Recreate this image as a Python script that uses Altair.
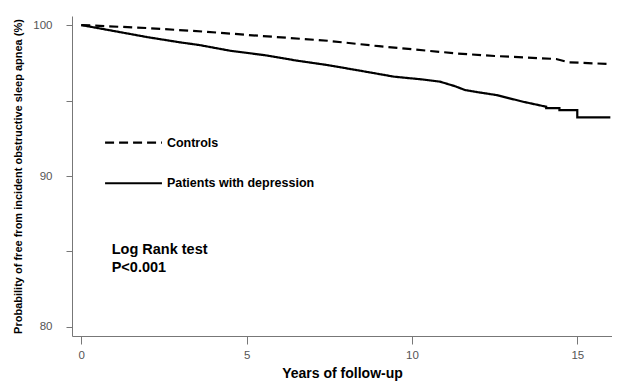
import altair as alt
import pandas as pd

# Kaplan-Meier curves (years, % free from OSA)
dep_t = [0, 0.5, 1, 2, 3, 3.56, 4.5, 5.56, 6.5, 7.45, 8.5, 9.46, 10.3, 10.85, 11.3, 11.6,
         12.0, 12.56, 13.36, 14.06, 14.06, 14.46, 14.46, 15.0, 15.0, 16.0]
dep_v = [100, 99.8, 99.6, 99.2, 98.85, 98.68, 98.3, 98.0, 97.65, 97.35, 96.95, 96.58, 96.4, 96.25,
         95.95, 95.7, 95.55, 95.36, 94.92, 94.59, 94.5, 94.5, 94.37, 94.37, 93.89, 93.89]
ctl_t = [0, 2, 3.76, 5, 7.45, 9, 11.35, 12.5, 14.36, 14.75, 16.0]
ctl_v = [100, 99.8, 99.56, 99.35, 98.96, 98.6, 98.12, 97.95, 97.75, 97.53, 97.42]

group_names = ["Controls", "Patients with depression"]
x_ticks = [0, 5, 10, 15]
y_ticks = [80, 85, 90, 95, 100]

rows = []
for i, (t, v) in enumerate(zip(dep_t, dep_v)):
    rows.append({"t": t, "v": v, "g": group_names[1], "o": i})
for i, (t, v) in enumerate(zip(ctl_t, ctl_v)):
    rows.append({"t": t, "v": v, "g": group_names[0], "o": i})
df = pd.DataFrame(rows)

# legend-like annotation (data space)
leg = pd.DataFrame({
    "x1": [0.72, 0.72], "x2": [2.44, 2.44], "y": [92.21, 89.52],
    "lx": [2.56, 2.56], "label": group_names, "g": group_names,
})
note = pd.DataFrame({"x": [0.92, 0.92], "y": [85.1, 83.93], "text": ["Log Rank test", "P<0.001"]})

xs = alt.Scale(domain=[-0.28, 16.05], nice=False, zero=False)
ys = alt.Scale(domain=[79.4, 100.6], nice=False, zero=False)

dash_scale = alt.Scale(domain=group_names, range=[[9, 5], [1, 0]])

lines = alt.Chart(df).mark_line(color="black", strokeWidth=2.2, clip=True).encode(
    x=alt.X("t:Q", scale=xs,
            axis=alt.Axis(values=x_ticks, title="Years of follow-up", tickSize=8,
                          labelPadding=5, titlePadding=6, format="d")),
    y=alt.Y("v:Q", scale=ys,
            axis=alt.Axis(values=y_ticks, title="Probability of free from incident obstructive sleep apnea (%)",
                          tickSize=6, labelPadding=14, titlePadding=9,
                          labelExpr="datum.value % 10 == 0 ? datum.label : ''")),
    strokeDash=alt.StrokeDash("g:N", scale=dash_scale, legend=None),
    order="o:Q",
)

leg_rules = alt.Chart(leg).mark_rule(color="black", strokeWidth=2.2).encode(
    x=alt.X("x1:Q", scale=xs), x2="x2:Q", y=alt.Y("y:Q", scale=ys),
    strokeDash=alt.StrokeDash("g:N", scale=dash_scale, legend=None),
)
leg_text = alt.Chart(leg).mark_text(align="left", baseline="middle", font="Liberation Sans",
                                    fontWeight="bold", fontSize=12.5, dx=1, color="black").encode(
    x=alt.X("lx:Q", scale=xs), y=alt.Y("y:Q", scale=ys), text="label:N")
note_text = alt.Chart(note).mark_text(align="left", baseline="middle", font="Liberation Sans",
                                      fontWeight="bold", fontSize=14.5, color="black").encode(
    x=alt.X("x:Q", scale=xs), y=alt.Y("y:Q", scale=ys), text="text:N")

chart = alt.layer(lines, leg_rules, leg_text, note_text).properties(
    width=540, height=320,
    autosize=alt.AutoSizeParams(type="none"),
    padding={"left": 64, "top": 8, "right": 0, "bottom": 45},
).configure_view(stroke=None).configure_axis(
    grid=False, domainColor="#777", tickColor="#777", labelColor="#555",
    labelFont="Liberation Sans", labelFontSize=11.5, titleFont="Liberation Sans",
    titleFontWeight="bold", titleColor="black",
).configure_axisX(titleFontSize=14).configure_axisY(titleFontSize=11)

chart.save("out.html", embed_options={"renderer": "svg", "actions": False})
